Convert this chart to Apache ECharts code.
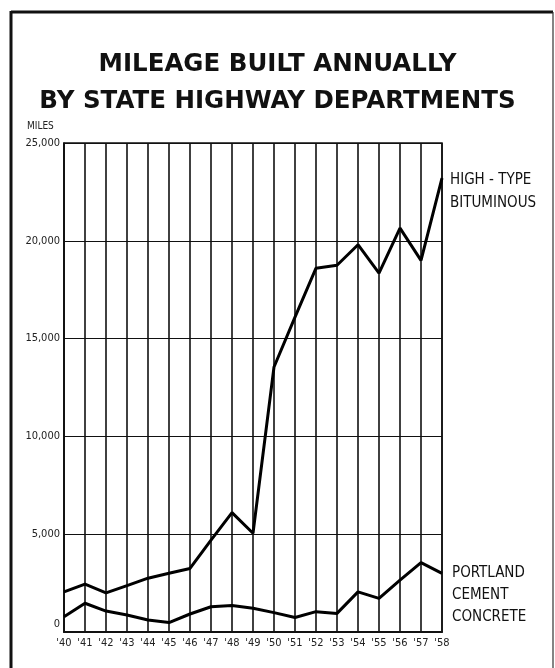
<!DOCTYPE html>
<html>
<head>
<meta charset="utf-8">
<script src="https://cdn.jsdelivr.net/npm/echarts@6/dist/echarts.min.js"></script>
<style>
html,body{margin:0;padding:0;background:#fff;}
#chart{width:555px;height:668px;}
</style>
</head>
<body>
<div id="chart"></div>
<script>
var years = ["'40","'41","'42","'43","'44","'45","'46","'47","'48","'49","'50","'51","'52","'53","'54","'55","'56","'57","'58"];
var bituminous = [2050,2450,2000,2370,2750,3000,3250,4700,6100,5050,13550,16100,18600,18750,19800,18350,20650,19000,23200];
var portland = [780,1470,1070,870,610,480,920,1290,1350,1210,990,740,1040,950,2050,1720,2650,3550,3000];
var yTicks = [0,5000,10000,15000,20000,25000];

var condensed = "'Liberation Sans Narrow','DejaVu Sans Condensed','Roboto Condensed',sans-serif";
var chart = echarts.init(document.getElementById('chart'));
chart.setOption({
  animation:false,
  backgroundColor:'#fff',
  title:{
    text:'MILEAGE BUILT ANNUALLY\nBY STATE HIGHWAY DEPARTMENTS',
    left:'center', top:41,
    textStyle:{fontFamily:'DejaVu Sans',fontWeight:'bold',fontSize:24.5,lineHeight:37,color:'#111',align:'center'}
  },
  grid:{left:64,right:113,top:143,bottom:36,show:true,borderColor:'#111',borderWidth:1.5,containLabel:false},
  xAxis:{
    type:'category', data:years, boundaryGap:false,
    axisLine:{lineStyle:{color:'#111',width:2}},
    axisTick:{show:false},
    axisLabel:{color:'#222',fontFamily:condensed,fontSize:11,margin:6,interval:0},
    splitLine:{show:true,interval:0,lineStyle:{color:'#111',width:1.6}}
  },
  yAxis:{
    type:'value', min:0, max:25000, interval:5000,
    axisLine:{show:true,lineStyle:{color:'#111',width:1.5}},
    axisTick:{show:false},
    axisLabel:{color:'#222',fontFamily:condensed,fontSize:11,margin:4,
      formatter:function(v){ return yTicks.indexOf(v)<0?'':(v===0?'{z|0}':v.toLocaleString('en-US')); },
      rich:{z:{fontFamily:condensed,fontSize:11,color:'#222',padding:[0,0,16,0]}}
    },
    splitLine:{show:true,lineStyle:{color:'#111',width:1}}
  },
  series:[
    {name:'High-Type Bituminous',type:'line',data:bituminous,symbol:'none',lineStyle:{color:'#000',width:3},z:5},
    {name:'Portland Cement Concrete',type:'line',data:portland,symbol:'none',lineStyle:{color:'#000',width:3},z:5}
  ],
  graphic:[
    {type:'line',shape:{x1:11,y1:12,x2:553,y2:12},style:{stroke:'#111',lineWidth:3}},
    {type:'line',shape:{x1:11,y1:11,x2:11,y2:668},style:{stroke:'#111',lineWidth:3}},
    {type:'line',shape:{x1:553,y1:12,x2:553,y2:668},style:{stroke:'#333',lineWidth:1.2}},
    {type:'text',left:27,top:121,style:{text:'MILES',fontFamily:condensed,fontSize:10,fill:'#222'}},
    {type:'text',left:450,top:169,style:{text:'HIGH - TYPE\nBITUMINOUS',fontFamily:condensed,fontSize:15,lineHeight:23,fill:'#111'}},
    {type:'text',left:452,top:562,style:{text:'PORTLAND\nCEMENT\nCONCRETE',fontFamily:condensed,fontSize:15,lineHeight:22,fill:'#111'}}
  ]
});
</script>
</body>
</html>
